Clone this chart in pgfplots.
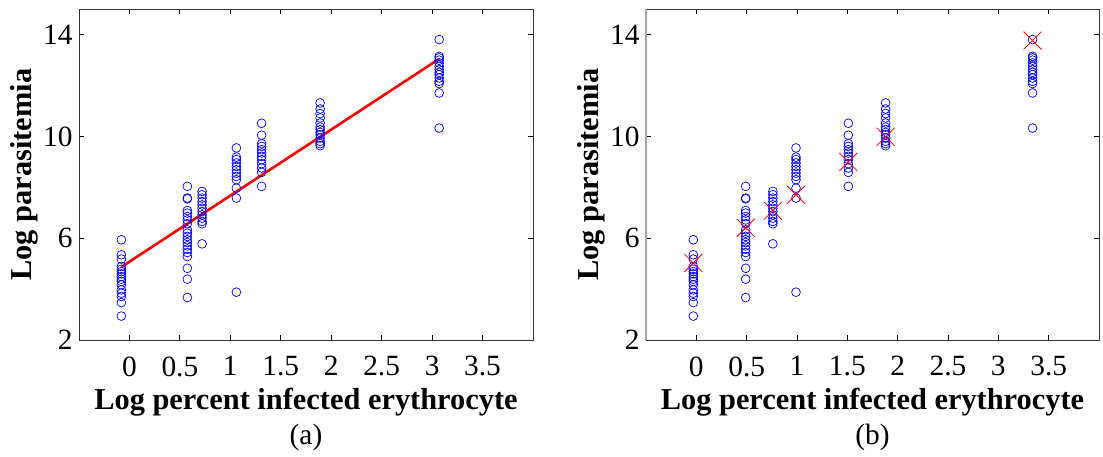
\documentclass[border=0pt]{standalone}
\usepackage{fontspec}
\setmainfont{Liberation Serif}
\usepackage{pgfplots}
\usepackage{pgfplotstable}
\pgfplotsset{compat=1.18}

\pgfplotstableread{
xa xb y
-0.08 -0.03 5.94
-0.08 -0.03 5.35
-0.08 -0.03 5.18
-0.08 -0.03 4.89
-0.08 -0.03 4.78
-0.08 -0.03 4.69
-0.08 -0.03 4.60
-0.08 -0.03 4.49
-0.08 -0.03 4.39
-0.08 -0.03 4.30
-0.08 -0.03 4.17
-0.08 -0.03 3.97
-0.08 -0.03 3.84
-0.08 -0.03 3.71
-0.08 -0.03 3.47
-0.08 -0.03 2.94
0.574 0.49 8.04
0.574 0.49 7.58
0.574 0.49 7.55
0.574 0.49 7.09
0.574 0.49 6.99
0.574 0.49 6.85
0.574 0.49 6.72
0.574 0.49 6.57
0.574 0.49 6.33
0.574 0.49 6.20
0.574 0.49 6.07
0.574 0.49 5.94
0.574 0.49 5.83
0.574 0.49 5.70
0.574 0.49 5.57
0.574 0.49 5.44
0.574 0.49 5.28
0.574 0.49 4.82
0.574 0.49 4.39
0.574 0.49 3.67
0.72 0.76 7.84
0.72 0.76 7.71
0.72 0.76 7.58
0.72 0.76 7.44
0.72 0.76 7.31
0.72 0.76 7.18
0.72 0.76 7.05
0.72 0.76 6.92
0.72 0.76 6.79
0.72 0.76 6.66
0.72 0.76 6.57
0.72 0.76 5.78
1.06 0.99 9.55
1.06 0.99 9.19
1.06 0.99 9.09
1.06 0.99 8.96
1.06 0.99 8.82
1.06 0.99 8.69
1.06 0.99 8.56
1.06 0.99 8.43
1.06 0.99 8.30
1.06 0.99 7.97
1.06 0.99 7.58
1.06 0.99 3.88
1.31 1.51 10.52
1.31 1.51 10.05
1.31 1.51 9.72
1.31 1.51 9.61
1.31 1.51 9.48
1.31 1.51 9.35
1.31 1.51 9.22
1.31 1.51 9.09
1.31 1.51 8.93
1.31 1.51 8.76
1.31 1.51 8.59
1.31 1.51 8.04
1.89 1.88 11.32
1.89 1.88 11.08
1.89 1.88 10.90
1.89 1.88 10.73
1.89 1.88 10.53
1.89 1.88 10.37
1.89 1.88 10.27
1.89 1.88 10.16
1.89 1.88 10.07
1.89 1.88 9.94
1.89 1.88 9.81
1.89 1.88 9.72
1.89 1.88 9.64
3.07 3.34 13.81
3.07 3.34 13.15
3.07 3.34 13.09
3.07 3.34 13.00
3.07 3.34 12.89
3.07 3.34 12.76
3.07 3.34 12.63
3.07 3.34 12.52
3.07 3.34 12.43
3.07 3.34 12.30
3.07 3.34 12.17
3.07 3.34 12.08
3.07 3.34 11.71
3.07 3.34 10.33
}\pts

\pgfplotstableread{
x y
-0.03 5.03
0.49 6.41
0.76 7.08
0.99 7.71
1.51 9.00
1.88 9.99
3.34 13.77
}\means

\pgfplotsset{
  panel/.style={
    scale only axis,
    width=454bp, height=330.7bp,
    anchor=south west,
    xmin=-0.5, xmax=4, ymin=2, ymax=15,
    xtick={0,0.5,1,1.5,2,2.5,3,3.5},
    xticklabels={0,0.5,1,1.5,2,2.5,3,3.5},
    ytick={2,6,10,14},
    yticklabels={2,6,10,14},
    tick align=inside,
    major tick length=5bp,
    tick style={black, line width=0.8bp},
    ticklabel style={font=\fontsize{29.5}{34}\selectfont},
    xticklabel style={yshift=-13bp},
    yticklabel style={xshift=-3bp},
    axis line style={black!80, line width=0.9bp},
    xlabel={Log percent infected erythrocyte},
    ylabel={Log parasitemia},
    label style={font=\fontsize{30.5}{36}\selectfont\bfseries},
    xlabel style={at={(axis description cs:0.5,0)}, anchor=center, yshift=-62bp},
    ylabel style={at={(axis description cs:0,0.5)}, anchor=center, yshift=55bp},
    clip=false,
  },
  circ/.style={only marks, mark=o, mark size=4.4bp, draw=blue, mark options={line width=0.7bp, draw=blue}},
}

\begin{document}
\begin{tikzpicture}
\begin{axis}[panel, at={(79bp,117bp)}]
  \addplot[circ] table[x=xa, y=y] {\pts};
  \addplot[red, line width=2.6bp, no marks] coordinates {(-0.08,4.87) (3.07,13.05)};
  \node[font=\fontsize{29.5}{34}\selectfont] at (rel axis cs:0.5,0) [yshift=-97bp] {(a)};
\end{axis}
\begin{axis}[panel, at={(646bp,117bp)}, width=453bp]
  \addplot[circ] table[x=xb, y=y] {\pts};
  \addplot[only marks, mark=x, mark size=12.7bp, red, mark options={line width=0.8bp}] table[x=x, y=y] {\means};
  \draw[black!35, line width=1.2bp] (rel axis cs:0,0) -- (rel axis cs:0,1);
  \node[font=\fontsize{29.5}{34}\selectfont] at (rel axis cs:0.5,0) [yshift=-97bp] {(b)};
\end{axis}
\pgfresetboundingbox
\path (0,0) rectangle (1103bp,457bp);
\end{tikzpicture}
\end{document}
